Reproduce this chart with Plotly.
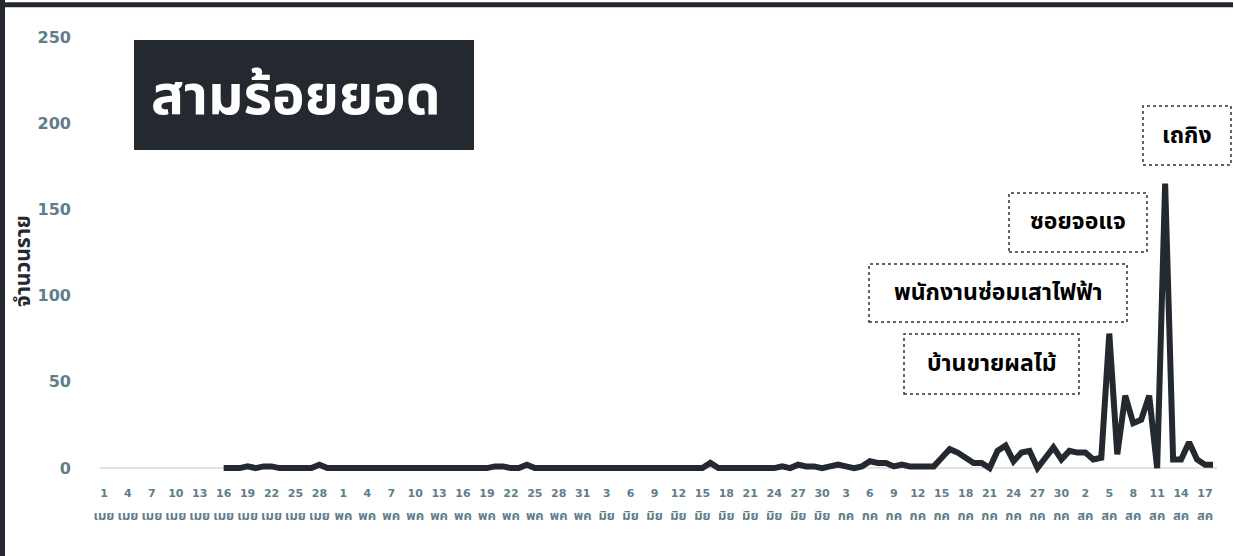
import plotly.graph_objects as go
import pandas as pd

# ---- data ----
start_date = "2021-04-16"
cases_apr = [0, 0, 0, 1, 0, 1, 1, 0, 0, 0, 0, 0, 2, 0, 0]            # Apr 16-30
cases_may = [0, 0, 0, 0, 0, 0, 0, 0, 0, 0, 0, 0, 0, 0, 0, 0, 0, 0, 0,
             1, 1, 0, 0, 2, 0, 0, 0, 0, 0, 0, 0]                      # May 1-31
cases_jun = [0, 0, 0, 0, 0, 0, 0, 0, 0, 0, 0, 0, 0, 0, 0, 3, 0, 0, 0, 0,
             0, 0, 0, 0, 1, 0, 2, 1, 1, 0]                            # Jun 1-30
cases_jul = [1, 2, 1, 0, 1, 4, 3, 3, 1, 2, 1, 1, 1, 1, 6, 11, 9, 6, 3, 3,
             0, 10, 13, 4, 9, 10, 0, 6, 12, 5, 10]                    # Jul 1-31
cases_aug = [9, 9, 5, 6, 78, 8, 42, 26, 28, 42, 0, 165, 5, 5, 15, 5, 2, 2]  # Aug 1-18
cases = cases_apr + cases_may + cases_jun + cases_jul + cases_aug
dates = pd.date_range(start_date, periods=len(cases), freq="D")

tick_dates = pd.date_range("2021-04-01", "2021-08-17", freq="3D")
tick_days = [1, 4, 7, 10, 13, 16, 19, 22, 25, 28,
             1, 4, 7, 10, 13, 16, 19, 22, 25, 28, 31,
             3, 6, 9, 12, 15, 18, 21, 24, 27, 30,
             3, 6, 9, 12, 15, 18, 21, 24, 27, 30,
             2, 5, 8, 11, 14, 17]
tick_months = (["เมย"] * 10 + ["พค"] * 11 + ["มิย"] * 10 + ["กค"] * 10 + ["สค"] * 6)

title_text = "สามร้อยยอด"
y_title = "จำนวนราย"
callouts = ["เถกิง", "ซอยจอแจ", "พนักงานซ่อมเสาไฟฟ้า", "บ้านขายผลไม้"]

# ---- style ----
W, H = 1234, 556
ML, MR, MT, MB = 100, 17, 30, 81
PW, PH = W - ML - MR, H - MT - MB
DARK = "#23292f"
TICK = "#607d8b"
FONT = "DejaVu Sans, Noto Sans Thai, Noto Sans, sans-serif"
THAI = "Noto Sans Thai, Noto Sans, DejaVu Sans, sans-serif"


def px(xp):
    return (xp - ML) / PW


def py(yp):
    return (H - MB - yp) / PH


x_range = [pd.Timestamp("2021-03-31 12:00"), pd.Timestamp("2021-08-18 12:00")]

fig = go.Figure()
fig.add_trace(go.Scatter(
    x=dates, y=cases, mode="lines",
    line=dict(color=DARK, width=6),
    hoverinfo="x+y", showlegend=False,
))
fig.add_trace(go.Scatter(
    x=dates, y=cases, mode="lines", xaxis="x2",
    line=dict(color="rgba(0,0,0,0)", width=0),
    hoverinfo="skip", showlegend=False,
))

fig.update_layout(
    width=W, height=H,
    margin=dict(l=ML, r=MR, t=MT, b=MB, pad=0),
    paper_bgcolor="white", plot_bgcolor="white",
    xaxis=dict(
        type="date", range=x_range,
        tickvals=tick_dates, ticktext=[str(d) for d in tick_days],
        tickangle=0, showgrid=False, zeroline=False, showline=False, ticks="",
        tickfont=dict(family=FONT, size=11, color=TICK, weight="bold"),
        ticklabelstandoff=10,
    ),
    xaxis2=dict(
        type="date", range=x_range, overlaying="x", anchor="y", side="bottom",
        tickvals=tick_dates, ticktext=tick_months,
        tickangle=0, showgrid=False, zeroline=False, showline=False, ticks="",
        tickfont=dict(family=THAI, size=13, color=TICK, weight="bold"),
        ticklabelstandoff=31,
    ),
    yaxis=dict(
        range=[-4, 254], tickvals=[0, 50, 100, 150, 200, 250],
        showgrid=False, zeroline=True, zerolinecolor="#dde3e6", zerolinewidth=2,
        showline=False, ticks="",
        tickfont=dict(family=FONT, size=16, color=TICK, weight="bold"),
        ticklabelstandoff=28,
    ),
)

shapes = []
# frame (left and top edges)
shapes.append(dict(type="line", xref="paper", yref="paper",
                   x0=px(2.5), x1=px(2.5), y0=py(0), y1=py(H),
                   line=dict(color=DARK, width=5)))
shapes.append(dict(type="line", xref="paper", yref="paper",
                   x0=px(0), x1=px(1233), y0=py(4.7), y1=py(4.7),
                   line=dict(color=DARK, width=5)))
# title box
shapes.append(dict(type="rect", xref="paper", yref="paper",
                   x0=px(134), x1=px(474), y0=py(150), y1=py(40),
                   fillcolor=DARK, line=dict(width=0)))
# dotted callout boxes: (x0, y0, x1, y1) in pixels
boxes = [(1143, 106, 1231, 165), (1009, 193, 1147, 252),
         (869, 264, 1127, 322), (904, 334, 1079, 394)]
for (x0, y0, x1, y1) in boxes:
    shapes.append(dict(type="rect", xref="paper", yref="paper",
                       x0=px(x0), x1=px(x1), y0=py(y1), y1=py(y0),
                       fillcolor="rgba(255,255,255,0)",
                       line=dict(color="#333333", width=1.5, dash="dot")))
fig.update_layout(shapes=shapes)

annotations = [
    dict(text=title_text, xref="paper", yref="paper",
         x=px(296), y=py(97), xanchor="center", yanchor="middle",
         showarrow=False, font=dict(family=THAI, size=55, color="white", weight="bold")),
    dict(text=y_title, xref="paper", yref="paper",
         x=px(23), y=py(261), xanchor="center", yanchor="middle", textangle=-90,
         showarrow=False, font=dict(family=THAI, size=21, color=DARK, weight="bold")),
]
for label, (x0, y0, x1, y1) in zip(callouts, boxes):
    annotations.append(dict(text=label, xref="paper", yref="paper",
                            x=px((x0 + x1) / 2), y=py((y0 + y1) / 2),
                            xanchor="center", yanchor="middle", showarrow=False,
                            font=dict(family=THAI, size=23, color="black", weight="bold")))
fig.update_layout(annotations=annotations)

fig.write_html("out.html", config={"displayModeBar": False},
               post_script="document.body.style.margin='0';document.body.style.overflow='hidden';")
